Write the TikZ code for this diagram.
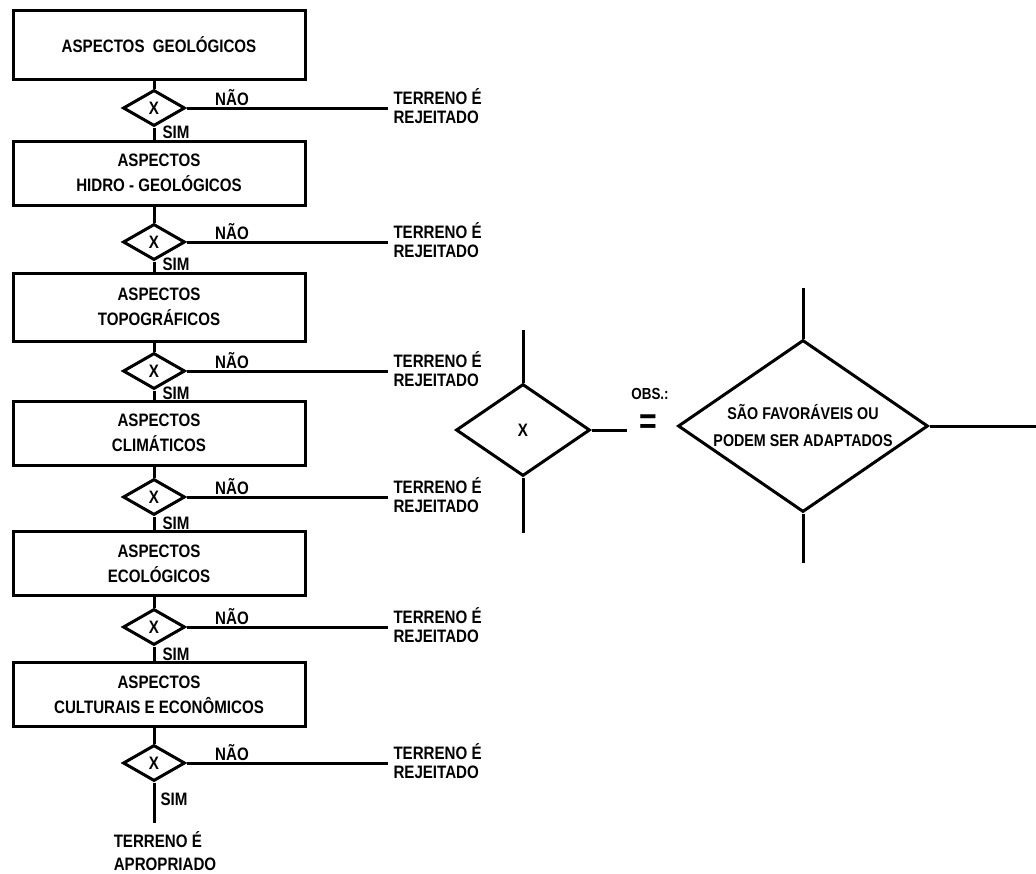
\documentclass[tikz,border=0pt]{standalone}
\usepackage{fontspec}
\setmainfont{Liberation Sans}[FakeStretch=0.84]
\usetikzlibrary{positioning}
\usetikzlibrary{shapes.geometric}

\begin{document}
\begin{tikzpicture}[x=1pt,y=-1pt,line width=3pt,font=\fontsize{18}{25}\selectfont\bfseries] % flow chart left, key right
\tikzstyle{box}=[draw,shape=rectangle,minimum width=292pt,minimum height=64pt,align=center,inner sep=0pt]
\tikzstyle{test}=[draw,shape=diamond,minimum width=62pt,minimum height=36pt,inner sep=0pt]
\tikzstyle{rej}=[align=left,inner sep=0pt,font=\fontsize{18}{19}\selectfont\bfseries]
\tikzstyle{tag}=[inner sep=0pt]

\useasboundingbox (0,0) rectangle (1036,873);

% boxes
\draw (159,44.5) node[box,minimum height=69pt] (geo) {ASPECTOS\ \ GEOLÓGICOS}; % geo
\draw (159,173) node[box] (hidro) {ASPECTOS\\HIDRO - GEOLÓGICOS}; % hidro
\draw (159,307) node[box,minimum height=68pt] (topo) {ASPECTOS\\TOPOGRÁFICOS}; % topo
\draw (159,433) node[box] (clima) {ASPECTOS\\CLIMÁTICOS}; % clima
\draw (159,563.5) node[box] (eco) {ASPECTOS\\ECOLÓGICOS}; % eco
\draw (159,694.5) node[box] (cult) {ASPECTOS\\CULTURAIS E ECONÔMICOS}; % cult

% tests
\draw (154,108) node[test] (t1) {X};
\draw (154,242) node[test] (t2) {X};
\draw (154,371) node[test] (t3) {X};
\draw (154,497) node[test] (t4) {X};
\draw (154,627) node[test] (t5) {X};
\draw (154,763) node[test] (t6) {X};

% down the chain
\draw (geo.south -| t1) -- (t1.north);
\draw (t1.south) -- (hidro.north -| t1);
\draw (hidro.south -| t2) -- (t2.north);
\draw (t2.south) -- (topo.north -| t2);
\draw (topo.south -| t3) -- (t3.north);
\draw (t3.south) -- (clima.north -| t3);
\draw (clima.south -| t4) -- (t4.north);
\draw (t4.south) -- (eco.north -| t4);
\draw (eco.south -| t5) -- (t5.north);
\draw (t5.south) -- (cult.north -| t5);
\draw (cult.south -| t6) -- (t6.north);

% rejected
\coordinate (r1) at (388,108);
\coordinate (r2) at (388,242);
\coordinate (r3) at (388,371);
\coordinate (r4) at (388,497);
\coordinate (r5) at (388,627);
\coordinate (r6) at (388,763);
\draw (t1.east) -- (r1); \node[rej,right=4pt of r1,yshift=2pt] (rj1) {TERRENO É\\REJEITADO};
\draw (t2.east) -- (r2); \node[rej,right=4pt of r2,yshift=2pt] (rj2) {TERRENO É\\REJEITADO};
\draw (t3.east) -- (r3); \node[rej,right=4pt of r3,yshift=2pt] (rj3) {TERRENO É\\REJEITADO};
\draw (t4.east) -- (r4); \node[rej,right=4pt of r4,yshift=2pt] (rj4) {TERRENO É\\REJEITADO};
\draw (t5.east) -- (r5); \node[rej,right=4pt of r5,yshift=2pt] (rj5) {TERRENO É\\REJEITADO};
\draw (t6.east) -- (r6); \node[rej,right=4pt of r6,yshift=2pt] (rj6) {TERRENO É\\REJEITADO};

% NAO / SIM
\draw (232,98) node[tag] (n1) {NÃO};   \draw (176,132) node[tag] (s1) {SIM};
\draw (232,232) node[tag] (n2) {NÃO};  \draw (176,264) node[tag] (s2) {SIM};
\draw (232,361) node[tag] (n3) {NÃO};  \draw (176,393) node[tag] (s3) {SIM};
\draw (232,487) node[tag] (n4) {NÃO};  \draw (176,523) node[tag] (s4) {SIM};
\draw (232,617) node[tag] (n5) {NÃO};  \draw (176,654) node[tag] (s5) {SIM};
\draw (232,753) node[tag] (n6) {NÃO};  \draw (174,799) node[tag] (s6) {SIM};

% end
\coordinate (fim) at (154,823);
\draw (t6.south) -- (fim);
\draw (165,851) node[align=left,inner sep=0pt,font=\fontsize{18}{23}\selectfont\bfseries] (apr) {TERRENO É\\APROPRIADO};

% key on the right
\draw (523,430) node[test,minimum width=134pt,minimum height=92pt] (tx) {X}; % small test
\coordinate (txn) at (523,330);
\coordinate (txs) at (523,533);
\coordinate (txe) at (627,430);
\draw (tx.north) -- (txn);
\draw (tx.south) -- (txs);
\draw (tx.east) -- (txe);

\draw (650,394) node[tag,font=\fontsize{16}{16}\selectfont\bfseries] (obs) {OBS.:};
\draw (648,424) node[tag,font=\fontsize{36}{36}\selectfont\bfseries] (eq) {=};

\draw (803,426) node[draw,shape=diamond,aspect=1.45,minimum width=250pt,minimum height=172pt,inner sep=0pt,align=center,font=\fontsize{17}{27}\selectfont\bfseries] (fav) {SÃO FAVORÁVEIS OU\\PODEM SER ADAPTADOS}; % big test
\coordinate (favn) at (803,288);
\coordinate (favs) at (803,563);
\coordinate (fave) at (1036,426);
\draw (fav.north) -- (favn);
\draw (fav.south) -- (favs);
\draw (fav.east) -- (fave);
\end{tikzpicture}
\end{document}
